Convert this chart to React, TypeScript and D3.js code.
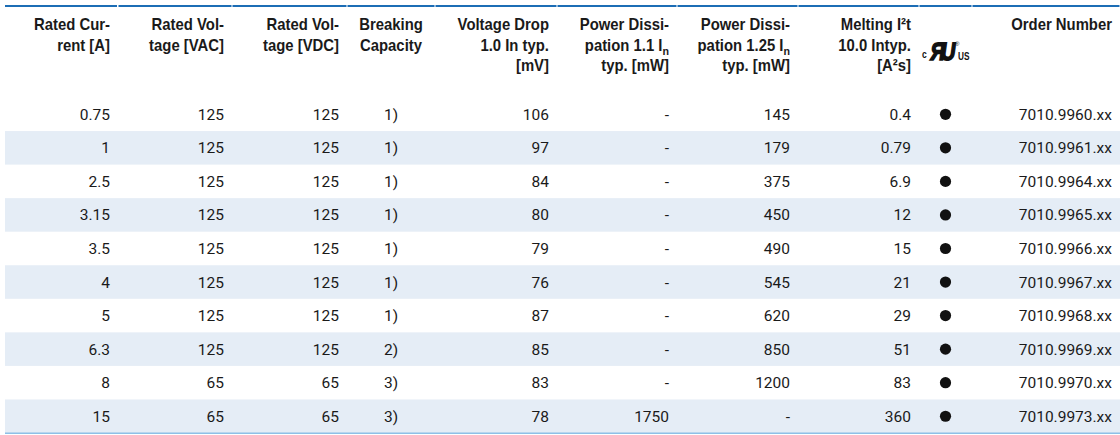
import React, { useEffect, useRef } from "react";
import * as d3 from "d3";

// table values, one array per column
const ratedCurrent = ["0.75", "1", "2.5", "3.15", "3.5", "4", "5", "6.3", "8", "15"];
const ratedVAC = ["125", "125", "125", "125", "125", "125", "125", "125", "65", "65"];
const ratedVDC = ["125", "125", "125", "125", "125", "125", "125", "125", "65", "65"];
const breakingCapacity = ["1)", "1)", "1)", "1)", "1)", "1)", "1)", "2)", "3)", "3)"];
const voltageDrop = ["106", "97", "84", "80", "79", "76", "87", "85", "83", "78"];
const powerDiss110 = ["-", "-", "-", "-", "-", "-", "-", "-", "-", "1750"];
const powerDiss125 = ["145", "179", "375", "450", "490", "545", "620", "850", "1200", "-"];
const meltingI2t = ["0.4", "0.79", "6.9", "12", "15", "21", "29", "51", "83", "360"];
const ulApproved = [true, true, true, true, true, true, true, true, true, true];
const orderNumber = [
  "7010.9960.xx", "7010.9961.xx", "7010.9964.xx", "7010.9965.xx", "7010.9966.xx",
  "7010.9967.xx", "7010.9968.xx", "7010.9969.xx", "7010.9970.xx", "7010.9973.xx",
];

// header lines; [text, subscript]
const headers: [string, string?][][] = [
  [["Rated Cur-"], ["rent [A]"]],
  [["Rated Vol-"], ["tage [VAC]"]],
  [["Rated Vol-"], ["tage [VDC]"]],
  [["Breaking"], ["Capacity"]],
  [["Voltage Drop"], ["1.0 In typ."], ["[mV]"]],
  [["Power Dissi-"], ["pation 1.1 I", "n"], ["typ. [mW]"]],
  [["Power Dissi-"], ["pation 1.25 I", "n"], ["typ. [mW]"]],
  [["Melting I²t"], ["10.0 Intyp."], ["[A²s]"]],
  [],
  [["Order Number"]],
];

const columns = [
  ratedCurrent, ratedVAC, ratedVDC, breakingCapacity, voltageDrop,
  powerDiss110, powerDiss125, meltingI2t, null, orderNumber,
];

const edges = [5, 118, 232, 347, 435, 557, 677, 798, 919, 972, 1120];
const align = ["end", "end", "end", "middle", "end", "end", "end", "end", "middle", "end"];

const W = 1120;
const H = 435;
const headFont = "'Liberation Sans', Arial, sans-serif";
const bodyFont = "Roboto, 'Liberation Sans', sans-serif";

const App: React.FC = () => {
  const ref = useRef<SVGSVGElement | null>(null);

  useEffect(() => {
    const svg = d3.select(ref.current);
    svg.selectAll("*").remove();

    const rows = d3.range(ratedCurrent.length);
    const y = d3.scaleBand<number>().domain(rows).range([97.5, 433]);

    const colX = (i: number) => {
      if (align[i] === "middle") return (edges[i] + edges[i + 1]) / 2;
      return edges[i + 1] - 8;
    };

    // striped rows
    svg
      .append("g")
      .selectAll("rect")
      .data(rows.filter((r) => r % 2 === 1))
      .join("rect")
      .attr("x", edges[0])
      .attr("width", W - edges[0])
      .attr("y", (r) => y(r)!)
      .attr("height", y.bandwidth())
      .attr("fill", "#e5edf6");

    // top rule, split per column
    svg
      .append("g")
      .selectAll("rect")
      .data(d3.range(edges.length - 1))
      .join("rect")
      .attr("x", (i) => edges[i] + (i === 0 ? 0 : 0.5))
      .attr("width", (i) => edges[i + 1] - edges[i] - 1)
      .attr("y", 5)
      .attr("height", 2)
      .attr("fill", "#1c6db5");

    // bottom rule
    svg
      .append("rect")
      .attr("x", edges[0])
      .attr("width", W - edges[0])
      .attr("y", 432.5)
      .attr("height", 1.5)
      .attr("fill", "#8ec0e6");

    // headers (slightly condensed)
    const head = svg.append("g").attr("font-family", headFont).attr("font-weight", "bold").attr("font-size", 16).attr("fill", "#1a1a1a");
    headers.forEach((lines, ci) => {
      lines.forEach(([txt, sub], li) => {
        const t = head
          .append("text")
          .attr("transform", `translate(${colX(ci)},${30 + li * 20.7}) scale(0.93,1)`)
          .attr("text-anchor", align[ci]);
        t.append("tspan").text(txt);
        if (sub) t.append("tspan").attr("dy", 4).attr("font-size", 11.5).text(sub);
      });
    });

    // UL logo
    const ul = svg.append("g").attr("font-family", headFont).attr("font-weight", "bold").attr("fill", "#111");
    ul.append("text").attr("transform", "translate(922,58) scale(0.85,1)").attr("font-size", 10).text("c");
    ul.append("text")
      .attr("transform", "translate(944,60) scale(-0.8,1) skewX(10)")
      .attr("font-size", 25)
      .attr("stroke", "#111")
      .attr("stroke-width", 1.6)
      .text("R");
    ul.append("text")
      .attr("transform", "translate(940,60) scale(0.8,1) skewX(-10)")
      .attr("font-size", 25)
      .attr("stroke", "#111")
      .attr("stroke-width", 1.6)
      .text("U");
    ul.append("text").attr("x", 955).attr("y", 46).attr("font-size", 6).attr("font-weight", "normal").text("®");
    ul.append("text").attr("transform", "translate(958,60) scale(0.75,1)").attr("font-size", 11).text("US");

    // body cells
    const body = svg.append("g").attr("font-family", bodyFont).attr("font-size", 15.5).attr("fill", "#1a1a1a");
    columns.forEach((col, ci) => {
      if (!col) return;
      body
        .append("g")
        .selectAll("text")
        .data(col)
        .join("text")
        .attr("x", colX(ci))
        .attr("y", (_, r) => y(r)! + y.bandwidth() / 2 + 5.5)
        .attr("text-anchor", align[ci])
        .text((d) => d);
    });

    // approval dots
    svg
      .append("g")
      .selectAll("circle")
      .data(rows.filter((r) => ulApproved[r]))
      .join("circle")
      .attr("cx", colX(8))
      .attr("cy", (r) => y(r)! + y.bandwidth() / 2)
      .attr("r", 5.6)
      .attr("fill", "#111");
  }, []);

  return (
    <svg
      ref={ref}
      width={W}
      height={H}
      style={{ position: "absolute", left: 0, top: 0, background: "#fff" }}
    />
  );
};

export default App;
